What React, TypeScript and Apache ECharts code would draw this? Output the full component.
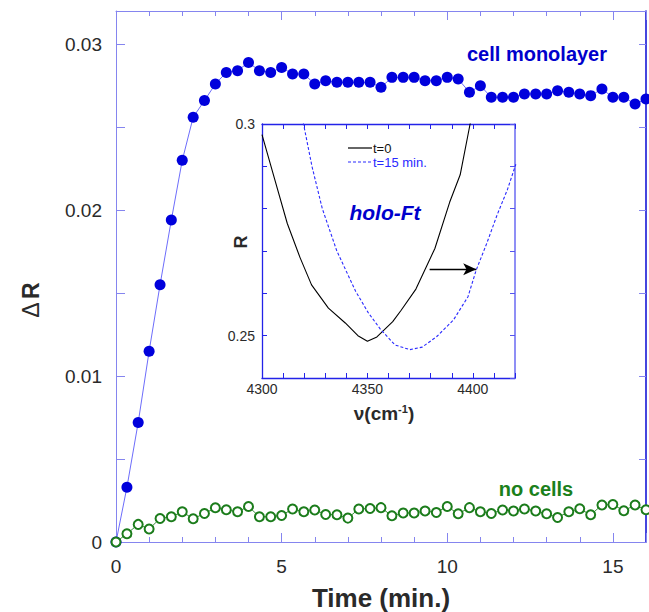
import React, { useEffect, useRef } from "react";
import * as echarts from "echarts";

// ---- Data ----
const TIME_MIN = [
  0, 0.33, 0.67, 1, 1.33, 1.67, 2, 2.33, 2.67, 3, 3.33, 3.67, 4, 4.33, 4.67, 5,
  5.33, 5.67, 6, 6.33, 6.67, 7, 7.33, 7.67, 8, 8.33, 8.67, 9, 9.33, 9.67, 10,
  10.33, 10.67, 11, 11.33, 11.67, 12, 12.33, 12.67, 13, 13.33, 13.67, 14, 14.33,
  14.67, 15, 15.33, 15.67, 16,
];
const CELL_MONOLAYER = [
  0, 0.0033, 0.0072, 0.0115, 0.0155, 0.0194, 0.023, 0.0256, 0.0266, 0.0276,
  0.0283, 0.0284, 0.0289, 0.0284, 0.0283, 0.0286, 0.0282, 0.0282, 0.0276, 0.0278,
  0.0277, 0.0277, 0.0277, 0.0277, 0.0274, 0.028, 0.028, 0.028, 0.0278, 0.0278,
  0.028, 0.0279, 0.0271, 0.0275, 0.0268, 0.0268, 0.0268, 0.027, 0.027, 0.027,
  0.0272, 0.0271, 0.027, 0.0269, 0.0273, 0.0268, 0.0268, 0.0264, 0.0267,
];
const NO_CELLS = [
  0, 0.0005, 0.00106, 0.00078, 0.00142, 0.00152, 0.00182, 0.0014, 0.00172,
  0.00206, 0.00194, 0.00182, 0.00214, 0.00152, 0.00152, 0.0016, 0.00199, 0.00182,
  0.00193, 0.00166, 0.00164, 0.00144, 0.00199, 0.00202, 0.00207, 0.00158,
  0.00175, 0.00175, 0.00187, 0.00178, 0.00214, 0.0017, 0.00207, 0.00182, 0.00172,
  0.00193, 0.00187, 0.00199, 0.00187, 0.0017, 0.00148, 0.00182, 0.002, 0.00164,
  0.00223, 0.00226, 0.00188, 0.00223, 0.00194,
];

// inset: reflectance spectra
const NU_T0 = [
  4300, 4306, 4312, 4318, 4323.5, 4331.5, 4339.5, 4345.5, 4350, 4354.5, 4362,
  4366, 4373, 4382, 4389, 4394, 4398.7, 4401,
];
const R_T0 = [
  0.2975, 0.287, 0.2765, 0.2685, 0.262, 0.2565, 0.253, 0.25, 0.2487, 0.2497,
  0.2533, 0.256, 0.261, 0.2706, 0.2815, 0.288, 0.3, 0.305,
];
const NU_T15 = [
  4317.8, 4319.7, 4323.7, 4328.6, 4335.5, 4344.4, 4350.3, 4356.2, 4363.1, 4370.1,
  4376, 4382.9, 4390.8, 4397.7, 4401.6, 4406.6, 4411.5, 4416.4, 4420.4,
];
const R_T15 = [
  0.305, 0.3, 0.29, 0.28, 0.27, 0.2605, 0.2555, 0.2515, 0.2478, 0.2467, 0.2473,
  0.2498, 0.2537, 0.2592, 0.2655, 0.2718, 0.2785, 0.2845, 0.2905,
];
const ARROW_FROM = [4379.5, 0.2657];
const ARROW_TO = [4401.6, 0.2657];

const MAIN_X_LABELS = [0, 5, 10, 15];
const MAIN_Y_LABELS = [0, 0.01, 0.02, 0.03];
const INSET_X_LABELS = [4300, 4350, 4400];
const INSET_Y_LABELS = [0.25, 0.3];

const FONT = "'Liberation Sans', Arial, Helvetica, sans-serif";
const LIGHT_AXIS = "#8585ef";
const DARK_AXIS = "#1717d6";
const TEXT = "#2a2a2a";

function near(list: number[], v: number) {
  return list.find((x) => Math.abs(x - v) < 1e-7);
}

export default function App() {
  const ref = useRef<HTMLDivElement>(null);

  useEffect(() => {
    if (!ref.current) return;
    const chart = echarts.init(ref.current, undefined, { renderer: "svg" });

    const mainX = (pos: string, interval: number, len: number, showLine: boolean, labels: boolean) => ({
      type: "value",
      gridIndex: 0,
      position: pos,
      min: 0,
      max: 16,
      interval,
      axisLine: { show: showLine, onZero: false, lineStyle: { color: LIGHT_AXIS, width: 1 } },
      axisTick: { show: true, inside: true, length: len, lineStyle: { color: LIGHT_AXIS, width: 1 } },
      axisLabel: {
        show: labels,
        margin: 15,
        fontSize: 19,
        color: TEXT,
        fontFamily: FONT,
        formatter: (v: number) => {
          const m = near(MAIN_X_LABELS, v);
          return m === undefined ? "" : String(m);
        },
      },
      splitLine: { show: false },
    });

    const insetX = (pos: string, labels: boolean) => ({
      type: "value",
      gridIndex: 1,
      position: pos,
      min: 4300,
      max: 4420,
      interval: 10,
      axisLine: { show: true, onZero: false, lineStyle: { color: "#2323e8", width: 1.3 } },
      axisTick: { show: true, inside: true, length: 5, lineStyle: { color: "#2323e8", width: 1 } },
      axisLabel: {
        show: labels,
        margin: 4,
        fontSize: 14,
        color: TEXT,
        fontFamily: FONT,
        formatter: (v: number) => {
          const m = near(INSET_X_LABELS, v);
          return m === undefined ? "" : String(m);
        },
      },
      splitLine: { show: false },
    });

    const option = {
      animation: false,
      textStyle: { fontFamily: FONT },
      grid: [
        { left: 116, right: 2, top: 11, bottom: 70, containLabel: false },
        { left: 262, right: 134, top: 124, bottom: 234, containLabel: false },
      ],
      xAxis: [
        mainX("bottom", 1, 5, true, true),
        mainX("bottom", 5, 9, false, false),
        mainX("top", 1, 5, true, false),
        mainX("top", 5, 9, false, false),
        insetX("bottom", true),
        insetX("top", false),
      ],
      yAxis: [
        {
          type: "value",
          gridIndex: 0,
          position: "left",
          min: 0,
          max: 0.032,
          interval: 0.005,
          axisLine: { show: true, onZero: false, lineStyle: { color: LIGHT_AXIS, width: 1 } },
          axisTick: { show: true, inside: true, length: 9, lineStyle: { color: LIGHT_AXIS, width: 1 } },
          axisLabel: {
            margin: 14,
            fontSize: 19,
            color: TEXT,
            fontFamily: FONT,
            formatter: (v: number) => {
              const m = near(MAIN_Y_LABELS, v);
              return m === undefined ? "" : String(m);
            },
          },
          splitLine: { show: false },
        },
        {
          type: "value",
          gridIndex: 0,
          position: "right",
          min: 0,
          max: 0.032,
          interval: 0.005,
          axisLine: { show: true, onZero: false, lineStyle: { color: DARK_AXIS, width: 1.6 } },
          axisTick: { show: true, inside: true, length: 7, lineStyle: { color: LIGHT_AXIS, width: 1 } },
          axisLabel: { show: false },
          splitLine: { show: false },
        },
        {
          type: "value",
          gridIndex: 1,
          position: "left",
          min: 0.24,
          max: 0.3,
          interval: 0.01,
          axisLine: { show: true, onZero: false, lineStyle: { color: "#2323e8", width: 1.3 } },
          axisTick: { show: true, inside: true, length: 5, lineStyle: { color: "#2323e8", width: 1 } },
          axisLabel: {
            margin: 7,
            fontSize: 14,
            color: TEXT,
            fontFamily: FONT,
            formatter: (v: number) => {
              const m = near(INSET_Y_LABELS, v);
              return m === undefined ? "" : String(m);
            },
          },
          splitLine: { show: false },
        },
        {
          type: "value",
          gridIndex: 1,
          position: "right",
          min: 0.24,
          max: 0.3,
          interval: 0.01,
          axisLine: { show: true, onZero: false, lineStyle: { color: "#7373f3", width: 1.6 } },
          axisTick: { show: true, inside: true, length: 5, lineStyle: { color: "#5555ee", width: 1 } },
          axisLabel: { show: false },
          splitLine: { show: false },
        },
      ],
      series: [
        {
          name: "cell monolayer",
          type: "line",
          xAxisIndex: 0,
          yAxisIndex: 0,
          data: TIME_MIN.map((t, i) => [t, CELL_MONOLAYER[i]]),
          symbol: "circle",
          symbolSize: 11,
          showAllSymbol: true,
          itemStyle: { color: "#0000dc" },
          lineStyle: { color: "#6d6dfb", width: 1 },
          z: 3,
        },
        {
          name: "no cells",
          type: "line",
          xAxisIndex: 0,
          yAxisIndex: 0,
          data: TIME_MIN.map((t, i) => [t, NO_CELLS[i]]),
          symbol: "emptyCircle",
          symbolSize: 9,
          showAllSymbol: true,
          itemStyle: { color: "#1b7c1b", borderColor: "#1b7c1b", borderWidth: 1.3 },
          lineStyle: { color: "#3a8f3a", width: 1 },
          z: 4,
        },
        {
          name: "t=0",
          type: "line",
          xAxisIndex: 4,
          yAxisIndex: 2,
          data: NU_T0.map((x, i) => [x, R_T0[i]]),
          symbol: "none",
          clip: true,
          lineStyle: { color: "#000000", width: 1.1 },
          markLine: {
            silent: true,
            symbol: ["none", "arrow"],
            symbolSize: [9, 13],
            label: { show: false },
            lineStyle: { color: "#000000", width: 1.3, type: "solid" },
            data: [[{ coord: ARROW_FROM }, { coord: ARROW_TO }]],
          },
          z: 3,
        },
        {
          name: "t=15 min.",
          type: "line",
          xAxisIndex: 4,
          yAxisIndex: 2,
          data: NU_T15.map((x, i) => [x, R_T15[i]]),
          symbol: "none",
          clip: true,
          lineStyle: { color: "#2a2aff", width: 1.1, type: [3, 2] },
          z: 3,
        },
      ],
      graphic: [
        {
          type: "text",
          x: 537,
          y: 54,
          style: {
            text: "cell monolayer",
            fontSize: 20,
            fontWeight: "bold",
            fontFamily: FONT,
            fill: "#0000cc",
            align: "center",
            verticalAlign: "middle",
          },
        },
        {
          type: "text",
          x: 536,
          y: 489,
          style: {
            text: "no cells",
            fontSize: 20,
            fontWeight: "bold",
            fontFamily: FONT,
            fill: "#1b801b",
            align: "center",
            verticalAlign: "middle",
          },
        },
        {
          type: "text",
          x: 381,
          y: 598,
          style: {
            text: "Time (min.)",
            fontSize: 26,
            fontWeight: "bold",
            fontFamily: FONT,
            fill: TEXT,
            align: "center",
            verticalAlign: "middle",
          },
        },
        {
          type: "text",
          x: 31,
          y: 300,
          rotation: Math.PI / 2,
          style: {
            text: "{d|Δ} {r|R}",
            rich: {
              d: { fontSize: 23, fontFamily: FONT, fill: TEXT },
              r: { fontSize: 23, fontWeight: "bold", fontFamily: FONT, fill: TEXT },
            },
            align: "center",
            verticalAlign: "middle",
          },
        },
        {
          type: "text",
          x: 385,
          y: 212,
          style: {
            text: "holo-Ft",
            fontSize: 21,
            fontWeight: "bold",
            fontStyle: "italic",
            fontFamily: FONT,
            fill: "#0000cc",
            align: "center",
            verticalAlign: "middle",
          },
        },
        {
          type: "text",
          x: 241,
          y: 242,
          rotation: Math.PI / 2,
          style: {
            text: "R",
            fontSize: 18,
            fontWeight: "bold",
            fontFamily: FONT,
            fill: TEXT,
            align: "center",
            verticalAlign: "middle",
          },
        },
        {
          type: "text",
          x: 384,
          y: 413,
          style: {
            text: "{a|ν(cm}{b|-1}{a|)}",
            rich: {
              a: { fontSize: 19, fontWeight: "bold", fontFamily: FONT, fill: TEXT },
              b: { fontSize: 11, fontWeight: "bold", fontFamily: FONT, fill: TEXT, verticalAlign: "top" },
            },
            align: "center",
            verticalAlign: "middle",
          },
        },
        {
          type: "line",
          shape: { x1: 348, y1: 148, x2: 372, y2: 148 },
          style: { stroke: "#000", lineWidth: 1.2 },
        },
        {
          type: "text",
          x: 373,
          y: 148,
          style: { text: "t=0", fontSize: 13, fontFamily: FONT, fill: "#111", align: "left", verticalAlign: "middle" },
        },
        {
          type: "line",
          shape: { x1: 348, y1: 162, x2: 372, y2: 162 },
          style: { stroke: "#2a2aff", lineWidth: 1.1, lineDash: [3, 2] },
        },
        {
          type: "text",
          x: 373,
          y: 162,
          style: { text: "t=15 min.", fontSize: 13, fontFamily: FONT, fill: "#2a2aff", align: "left", verticalAlign: "middle" },
        },
      ],
    };

    chart.setOption(option as any);
    return () => chart.dispose();
  }, []);

  return (
    <div
      ref={ref}
      style={{ position: "fixed", left: 0, top: 0, width: 649, height: 612, background: "#fff" }}
    />
  );
}
